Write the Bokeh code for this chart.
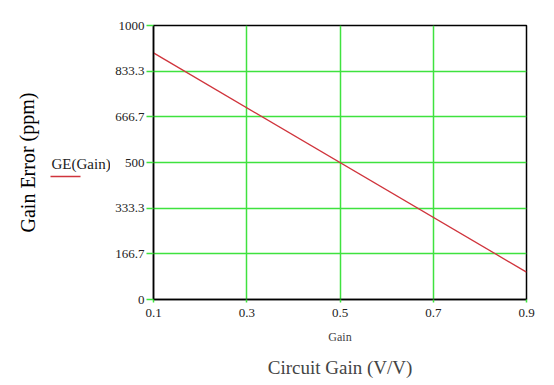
from bokeh.plotting import figure
from bokeh.layouts import row
from bokeh.models import Range1d, FixedTicker, LinearAxis
from bokeh.core.properties import value
from bokeh.embed import file_html
from bokeh.resources import INLINE

# data
gain = [0.1, 0.9]
ge = [900.0, 100.0]
x_ticks = [0.1, 0.3, 0.5, 0.7, 0.9]
y_ticks = [0, 166.7, 333.3, 500, 666.7, 833.3, 1000]
y_tick_labels = ["0", "166.7", "333.3", "500", "666.7", "833.3", "1000"]
series_name = "GE(Gain)"
y_title = "Gain Error (ppm)"
x_title_small = "Gain"
x_title = "Circuit Gain (V/V)"

SERIF = "Liberation Serif"
GREEN = "#3fe23f"
RED = "#d0343c"
LEFT_W = 110
TOP = 25
FRAME_H = 274

# ---- left strip: y title and legend (page-pixel coordinates, frame aligned to main plot) ----
lf = figure(width=LEFT_W, frame_height=FRAME_H, output_backend="svg", toolbar_location=None,
            x_range=Range1d(0, LEFT_W), y_range=Range1d(TOP + FRAME_H, TOP),
            min_border_left=0, min_border_right=0, min_border_top=TOP, min_border_bottom=76,
            x_axis_type=None, y_axis_type=None)
lf.outline_line_color = None
lf.grid.visible = False
lf.text(x=[27], y=[162], text=[y_title], angle=1.5708,
        text_font=value(SERIF), text_font_size="20px", text_align="center",
        text_baseline="middle", text_color="black")
lf.text(x=[51], y=[163], text=[series_name], text_font=value(SERIF),
        text_font_size="15px", text_align="left", text_baseline="middle",
        text_color="#222222")
lf.line(x=[50, 80], y=[176, 176], line_color=RED, line_width=1.3)

# ---- main plot ----
p = figure(frame_width=373, frame_height=FRAME_H, output_backend="svg", toolbar_location=None,
           x_range=Range1d(0.1, 0.9), y_range=Range1d(0, 1000),
           min_border_left=153 - LEFT_W, min_border_right=20, min_border_top=TOP,
           min_border_bottom=76)
p.outline_line_color = "black"
p.outline_line_width = 1.5

p.line(gain, ge, line_color=RED, line_width=1.3)

p.xaxis.ticker = FixedTicker(ticks=x_ticks)
p.yaxis.ticker = FixedTicker(ticks=y_ticks)
p.yaxis.major_label_overrides = dict(zip(y_ticks, y_tick_labels))
for ax in (p.xaxis[0], p.yaxis[0]):
    ax.axis_line_color = "black"
    ax.axis_line_width = 1.5
    ax.major_tick_line_color = GREEN
    ax.major_tick_line_width = 1.5
    ax.major_tick_out = 3
    ax.major_tick_in = 0
    ax.minor_tick_line_color = None
    ax.major_label_text_font = SERIF
    ax.major_label_text_font_size = "13px"
    ax.major_label_text_color = "#222222"
p.yaxis.major_tick_out = 7
p.xaxis.major_label_standoff = 6
p.yaxis.major_label_standoff = 2
p.xaxis.axis_label = x_title_small
p.xaxis.axis_label_text_font = SERIF
p.xaxis.axis_label_text_font_size = "12px"
p.xaxis.axis_label_text_font_style = "normal"
p.xaxis.axis_label_standoff = 10

ax2 = LinearAxis(ticker=FixedTicker(ticks=[]), axis_line_color=None,
                 major_tick_line_color=None, minor_tick_line_color=None,
                 major_tick_out=0, major_label_text_font_size="0px",
                 axis_label=x_title, axis_label_text_font=SERIF,
                 axis_label_text_font_size="19px", axis_label_text_font_style="normal",
                 axis_label_standoff=10)
p.add_layout(ax2, "below")

p.xgrid.ticker = FixedTicker(ticks=x_ticks)
p.ygrid.ticker = FixedTicker(ticks=y_ticks)
p.grid.grid_line_color = GREEN
p.grid.grid_line_width = 1.5
p.grid.grid_line_alpha = 1.0

layout = row(lf, p, spacing=0)
open("out.html", "w").write(file_html(layout, INLINE))
